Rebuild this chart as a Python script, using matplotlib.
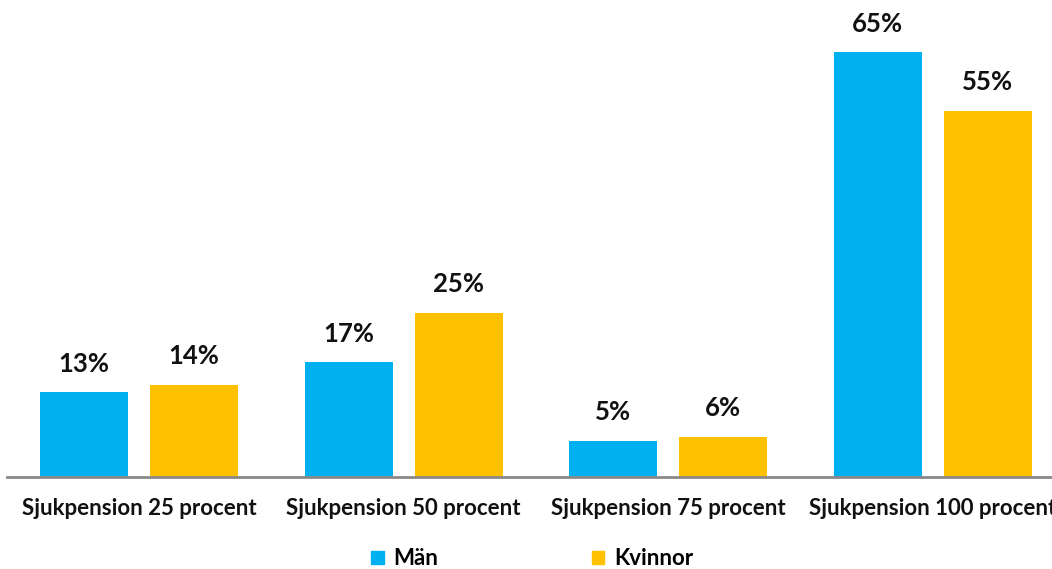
import numpy as np
import matplotlib.pyplot as plt
from matplotlib.patches import Patch

# Data (bar heights estimated, labels as printed)
kategorier = ['Sjukpension 25 procent', 'Sjukpension 50 procent',
              'Sjukpension 75 procent', 'Sjukpension 100 procent']
man = [13.0, 17.6, 5.5, 65.3]
kvinnor = [14.1, 25.2, 6.1, 56.3]
etiketter_man = ['13%', '17%', '5%', '65%']
etiketter_kvinnor = ['14%', '25%', '6%', '55%']

serier = ['Män', 'Kvinnor']
farger = ['#00B0F0', '#FFC000']

plt.rcParams['font.family'] = ['Lato', 'DejaVu Sans']

fig = plt.figure(figsize=(10.52, 5.69), dpi=100)
ax = fig.add_axes([0.00665, 0.1622, 1.0057, 0.7997])

x = np.arange(len(kategorier))
bredd = 0.333
forskjutning = 0.208

staplar_m = ax.bar(x - forskjutning, man, bredd, color=farger[0])
staplar_k = ax.bar(x + forskjutning, kvinnor, bredd, color=farger[1])

for staplar, etiketter in [(staplar_m, etiketter_man), (staplar_k, etiketter_kvinnor)]:
    for s, txt in zip(staplar, etiketter):
        ax.annotate(txt, (s.get_x() + s.get_width() / 2, s.get_height()),
                    xytext=(0, 12), textcoords='offset points',
                    ha='center', va='bottom', fontsize=18.5, fontweight='bold',
                    color='#111111')

ax.set_xlim(-0.5, len(kategorier) - 0.5)
ax.set_ylim(0, 70)
ax.set_xticks(x)
ax.set_xticklabels(kategorier, fontsize=16, fontweight='bold', color='#111111')
ax.tick_params(axis='x', length=0, pad=15)
ax.set_yticks([])

for side in ['top', 'right', 'left']:
    ax.spines[side].set_visible(False)
ax.spines['bottom'].set_color('#898989')
ax.spines['bottom'].set_linewidth(2)

handtag = [Patch(color=f) for f in farger]
fig.legend(handtag, serier, loc='center', bbox_to_anchor=(0.506, 0.0176),
           ncol=2, frameon=False, handlelength=0.55, handleheight=0.55,
           handletextpad=0.45, columnspacing=6.9,
           prop={'size': 16, 'weight': 'bold'})

fig.savefig('out.png', dpi=100)
